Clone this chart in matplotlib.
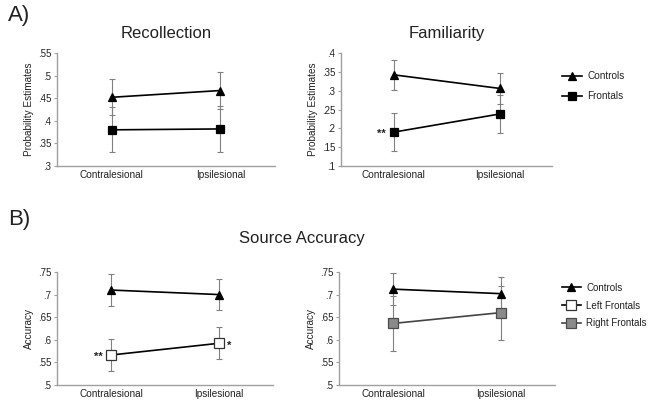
import matplotlib.pyplot as plt
import numpy as np

plt.rcParams["font.family"] = ["Liberation Sans", "DejaVu Sans"]

conditions = ["Contralesional", "Ipsilesional"]

# A) Recollection
rec_controls = [0.452, 0.467]
rec_controls_err = [0.040, 0.040]
rec_frontals = [0.380, 0.382]
rec_frontals_err = [0.050, 0.050]

# A) Familiarity
fam_controls = [0.342, 0.306]
fam_controls_err = [0.039, 0.042]
fam_frontals = [0.190, 0.238]
fam_frontals_err = [0.050, 0.050]

# B) Source accuracy
src_controls_l = [0.710, 0.700]
src_controls_l_err = [0.036, 0.035]
src_left = [0.566, 0.592]
src_left_err = [0.035, 0.035]
src_controls_r = [0.712, 0.702]
src_controls_r_err = [0.036, 0.036]
src_right = [0.636, 0.660]
src_right_err = [0.061, 0.060]

fig = plt.figure(figsize=(6.56, 4.0), dpi=100)

spine_c = "#a0a0a0"
err_c = "#808080"
txt_c = "#222222"


def style_axis(ax, ylim, yticks, ylabel):
    ax.set_xlim(-0.5, 1.5)
    ax.set_ylim(*ylim)
    ax.set_yticks(yticks)
    ax.set_yticklabels([("%g" % t).lstrip("0") for t in yticks])
    ax.set_xticks([0, 1])
    ax.set_xticklabels(conditions, fontsize=7.2, color=txt_c)
    ax.tick_params(axis="x", length=0, pad=3)
    ax.tick_params(axis="y", length=2.5, width=0.8, color=spine_c, labelsize=7,
                   labelcolor=txt_c, pad=1.5)
    for s in ["top", "right"]:
        ax.spines[s].set_visible(False)
    for s in ["left", "bottom"]:
        ax.spines[s].set_color(spine_c)
        ax.spines[s].set_linewidth(1.0)
    ax.set_ylabel(ylabel, fontsize=7.2, color=txt_c, labelpad=3)


def series(ax, vals, errs, marker, face, edge, line, ms, label):
    x = np.arange(len(vals))
    ax.errorbar(x, vals, yerr=errs, fmt="none", ecolor=err_c, elinewidth=0.8,
                capsize=2, capthick=0.8, zorder=1)
    return ax.plot(x, vals, color=line, lw=1.2, marker=marker, ms=ms,
                   mfc=face, mec=edge, mew=0.9, label=label, zorder=3)[0]


def stars(ax, x, y, s, dx, ha):
    ax.annotate(s, (x, y), xytext=(dx, -1.5), textcoords="offset points",
                ha=ha, va="center", fontsize=8, fontweight="bold", color=txt_c)


ax1 = fig.add_axes([0.087, 0.585, 0.332, 0.2825])
series(ax1, rec_controls, rec_controls_err, "^", "black", "black", "black", 6, "Controls")
series(ax1, rec_frontals, rec_frontals_err, "s", "black", "black", "black", 6, "Frontals")
style_axis(ax1, (0.3, 0.55), [0.3, 0.35, 0.4, 0.45, 0.5, 0.55], "Probability Estimates")
ax1.set_title("Recollection", fontsize=12, color=txt_c, pad=11)

ax2 = fig.add_axes([0.52, 0.585, 0.322, 0.2825])
h1 = series(ax2, fam_controls, fam_controls_err, "^", "black", "black", "black", 6, "Controls")
h2 = series(ax2, fam_frontals, fam_frontals_err, "s", "black", "black", "black", 6, "Frontals")
style_axis(ax2, (0.1, 0.4), [0.1, 0.15, 0.2, 0.25, 0.3, 0.35, 0.4], "Probability Estimates")
ax2.set_title("Familiarity", fontsize=12, color=txt_c, pad=11)
stars(ax2, 0, fam_frontals[0], "**", -6, "right")
fig.legend(handles=[h1, h2], loc="upper left", bbox_to_anchor=(0.843, 0.845),
           frameon=False, fontsize=7.2, handlelength=2.0, handletextpad=0.5,
           labelspacing=1.0, labelcolor=txt_c)

ax3 = fig.add_axes([0.087, 0.038, 0.329, 0.282])
series(ax3, src_controls_l, src_controls_l_err, "^", "black", "black", "black", 6, "Controls")
series(ax3, src_left, src_left_err, "s", "white", "#333333", "black", 7, "Left Frontals")
style_axis(ax3, (0.5, 0.75), [0.5, 0.55, 0.6, 0.65, 0.7, 0.75], "Accuracy")
stars(ax3, 0, src_left[0], "**", -6, "right")
stars(ax3, 1, src_left[1], "*", 6, "left")

ax4 = fig.add_axes([0.517, 0.038, 0.329, 0.282])
g1 = series(ax4, src_controls_r, src_controls_r_err, "^", "black", "black", "black", 6, "Controls")
g3 = series(ax4, src_right, src_right_err, "s", "#8a8a8a", "#4a4a4a", "#444444", 7, "Right Frontals")
style_axis(ax4, (0.5, 0.75), [0.5, 0.55, 0.6, 0.65, 0.7, 0.75], "Accuracy")
g2 = plt.Line2D([], [], color="black", lw=1.2, marker="s", ms=7, mfc="white",
                mec="#333333", mew=0.9, label="Left Frontals")
fig.legend(handles=[g1, g2, g3], loc="upper left", bbox_to_anchor=(0.843, 0.315),
           frameon=False, fontsize=7, handlelength=2.0, handletextpad=0.5,
           labelspacing=0.8, labelcolor=txt_c)

fig.text(0.012, 0.96, "A)", fontsize=16, color=txt_c, va="center", ha="left")
fig.text(0.012, 0.452, "B)", fontsize=16, color=txt_c, va="center", ha="left")
fig.text(0.46, 0.405, "Source Accuracy", fontsize=12, color=txt_c, va="center", ha="center")

fig.savefig("out.png", dpi=100)
